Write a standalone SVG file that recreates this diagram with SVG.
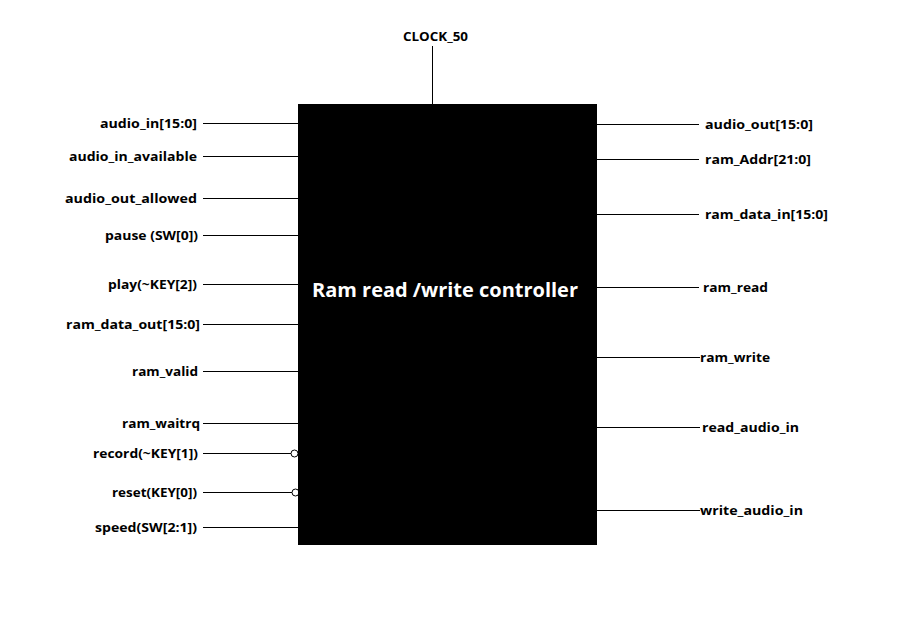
<svg xmlns="http://www.w3.org/2000/svg" width="909" height="644" viewBox="0 0 909 644">
<style>
.lbl{font-family:"Open Sans","Liberation Sans",Arial,sans-serif;font-weight:bold;font-size:13px;fill:#000}
.l{text-anchor:end}
.w{stroke:#000;stroke-width:1;fill:none}
.title{font-family:"Open Sans","Liberation Sans",Arial,sans-serif;font-weight:bold;font-size:20px;fill:#fff;text-anchor:middle}
</style>
<rect width="909" height="644" fill="#fff"/>
<g id="connectors">
<line class="w" x1="432.5" y1="46" x2="432.5" y2="104"/>
<line class="w" x1="203" y1="123.5" x2="298" y2="123.5"/>
<line class="w" x1="203" y1="156.5" x2="298" y2="156.5"/>
<line class="w" x1="203" y1="198.5" x2="298" y2="198.5"/>
<line class="w" x1="203" y1="235.5" x2="298" y2="235.5"/>
<line class="w" x1="203" y1="284.5" x2="298" y2="284.5"/>
<line class="w" x1="203" y1="324.5" x2="298" y2="324.5"/>
<line class="w" x1="203" y1="371.5" x2="298" y2="371.5"/>
<line class="w" x1="203" y1="423.5" x2="298" y2="423.5"/>
<line class="w" x1="203" y1="453.5" x2="291" y2="453.5"/>
<circle class="w" cx="294.5" cy="453.5" r="3.5" fill="#fff"/>
<line class="w" x1="203" y1="492.5" x2="292" y2="492.5"/>
<circle class="w" cx="295.5" cy="492.5" r="3.5" fill="#fff"/>
<line class="w" x1="203" y1="527.5" x2="298" y2="527.5"/>
<line class="w" x1="597" y1="124.5" x2="699" y2="124.5"/>
<line class="w" x1="597" y1="159.5" x2="699" y2="159.5"/>
<line class="w" x1="597" y1="214.5" x2="699" y2="214.5"/>
<line class="w" x1="597" y1="287.5" x2="699" y2="287.5"/>
<line class="w" x1="597" y1="357.5" x2="700" y2="357.5"/>
<line class="w" x1="597" y1="427.5" x2="700" y2="427.5"/>
<line class="w" x1="597" y1="510.5" x2="700" y2="510.5"/>
</g>
<g id="controller">
<rect x="298" y="104" width="299" height="441" fill="#000"/>
<text class="title" x="445" y="297" textLength="266" lengthAdjust="spacingAndGlyphs">Ram read /write controller</text>
</g>
<g id="clock">
<text class="lbl" x="403" y="41" textLength="65" lengthAdjust="spacingAndGlyphs">CLOCK_50</text>
</g>
<g id="inputs">
<text class="lbl l" x="197" y="127.5" textLength="97" lengthAdjust="spacingAndGlyphs">audio_in[15:0]</text>
<text class="lbl l" x="197" y="160.5" textLength="128" lengthAdjust="spacingAndGlyphs">audio_in_available</text>
<text class="lbl l" x="197" y="202.5" textLength="132" lengthAdjust="spacingAndGlyphs">audio_out_allowed</text>
<text class="lbl l" x="198" y="239.5" textLength="93" lengthAdjust="spacingAndGlyphs">pause (SW[0])</text>
<text class="lbl l" x="197" y="288.5" textLength="89" lengthAdjust="spacingAndGlyphs">play(~KEY[2])</text>
<text class="lbl l" x="200" y="328.5" textLength="134" lengthAdjust="spacingAndGlyphs">ram_data_out[15:0]</text>
<text class="lbl l" x="198" y="375.5" textLength="66" lengthAdjust="spacingAndGlyphs">ram_valid</text>
<text class="lbl l" x="200" y="427.5" textLength="78" lengthAdjust="spacingAndGlyphs">ram_waitrq</text>
<text class="lbl l" x="198" y="457.5" textLength="105" lengthAdjust="spacingAndGlyphs">record(~KEY[1])</text>
<text class="lbl l" x="197" y="496.5" textLength="85" lengthAdjust="spacingAndGlyphs">reset(KEY[0])</text>
<text class="lbl l" x="197" y="531.5" textLength="102" lengthAdjust="spacingAndGlyphs">speed(SW[2:1])</text>
</g>
<g id="outputs">
<text class="lbl" x="705" y="128.5" textLength="108" lengthAdjust="spacingAndGlyphs">audio_out[15:0]</text>
<text class="lbl" x="705" y="163.5" textLength="106" lengthAdjust="spacingAndGlyphs">ram_Addr[21:0]</text>
<text class="lbl" x="705" y="218.5" textLength="123" lengthAdjust="spacingAndGlyphs">ram_data_in[15:0]</text>
<text class="lbl" x="703" y="291.5" textLength="65" lengthAdjust="spacingAndGlyphs">ram_read</text>
<text class="lbl" x="700" y="361.5" textLength="70" lengthAdjust="spacingAndGlyphs">ram_write</text>
<text class="lbl" x="702" y="431.5" textLength="97" lengthAdjust="spacingAndGlyphs">read_audio_in</text>
<text class="lbl" x="700" y="514.5" textLength="103" lengthAdjust="spacingAndGlyphs">write_audio_in</text>
</g>
</svg>
